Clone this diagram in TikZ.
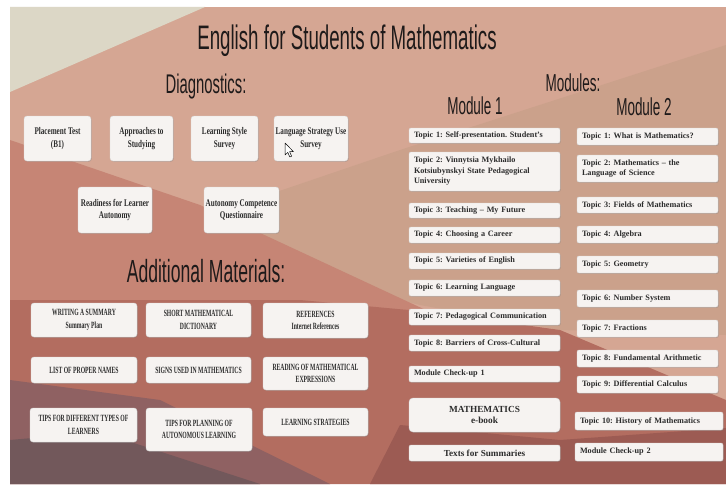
\documentclass[tikz,border=0pt]{standalone}
\usepackage{fontspec}
\setmainfont{Liberation Serif}
\newfontfamily\headfont[FakeStretch=0.55]{Liberation Sans}
\newfontfamily\diagfont[FakeStretch=0.70]{Liberation Serif}
\newfontfamily\capsfont[FakeStretch=0.60]{Liberation Serif}
\usetikzlibrary{shadows}
\definecolor{slide}{HTML}{D5A693}
\definecolor{beige}{HTML}{DCD7C6}
\definecolor{tanmid}{HTML}{CBA18B}
\definecolor{redleft}{HTML}{C68575}
\definecolor{redband}{HTML}{B36D60}
\definecolor{darkleft}{HTML}{8F6162}
\definecolor{darkest}{HTML}{72585B}
\definecolor{darkright}{HTML}{9C5B53}
\definecolor{boxfill}{HTML}{F6F3F1}
\definecolor{boxtext}{HTML}{2C2C2C}
\definecolor{headtext}{HTML}{1E1A1A}
\frenchspacing
\tikzset{
  box/.style={draw=black!15, fill=boxfill, rounded corners=3pt,
    drop shadow={opacity=0.35, shadow xshift=0.8pt, shadow yshift=-0.8pt},
    inner sep=0pt, text=boxtext},
  diagbox/.style={box, align=center, font=\diagfont\fontsize{10.2}{12.5}\selectfont\bfseries},
  matbox/.style={box, align=center, font=\capsfont\fontsize{9.5}{12.5}\selectfont\bfseries},
  topic/.style={box, rounded corners=2pt, align=left, inner xsep=5pt, inner ysep=0pt,
    font=\fontsize{8.2}{10.5}\selectfont\bfseries},
  mtopic/.style={topic, text width=141pt, minimum height=#1},
  ntopic/.style={topic, text width=131pt, minimum height=#1},
  head/.style={anchor=base, text=headtext, inner sep=0pt}
}
\begin{document}
\begin{tikzpicture}[x=1pt,y=-1pt]
\useasboundingbox (0,0) rectangle (726,487);
% background
\fill[white] (0,0) rectangle (726,487);
\fill[slide] (10,7) rectangle (726,484);
\fill[tanmid] (150,235) -- (400,150) -- (726,45) -- (726,335) -- (560,330) -- (420,305) -- cycle;
\fill[beige] (10,7) -- (205,7) -- (10,92) -- cycle;
\fill[redleft] (10,140) -- (200,205) -- (430,312) -- (300,330) -- (10,330) -- cycle;
\fill[redband] (10,300) -- (300,300) -- (430,312) -- (560,330) -- (726,400) -- (726,484) -- (10,484) -- cycle;
\fill[darkleft] (10,380) -- (160,400) -- (330,484) -- (10,484) -- cycle;
\fill[darkest] (10,440) -- (100,432) -- (260,484) -- (10,484) -- cycle;
\fill[darkright] (400,425) -- (560,440) -- (726,428) -- (726,484) -- (370,484) -- cycle;

% headings
\node[head, font=\headfont\fontsize{34}{36}\selectfont] (title) at (347,50) {English for Students of Mathematics};
\node[head, font=\headfont\fontsize{27}{30}\selectfont] (diag) at (206,93) {Diagnostics:};
\node[head, font=\headfont\fontsize{24.5}{27}\selectfont] (modules) at (573,92) {Modules:};
\node[head, font=\headfont\fontsize{24.5}{27}\selectfont] (mod1) at (475,114) {Module 1};
\node[head, font=\headfont\fontsize{24.5}{27}\selectfont] (mod2) at (644,115) {Module 2};
\node[head, font=\headfont\fontsize{32}{35}\selectfont] (addmat) at (206,282) {Additional Materials:};

% diagnostics boxes
\node[diagbox, minimum width=67pt, minimum height=45pt] (d1) at (57.5,138.5) {Placement Test\\(B1)};
\node[diagbox, minimum width=63pt, minimum height=45pt] (d2) at (141.5,138.5) {Approaches to\\Studying};
\node[diagbox, minimum width=67pt, minimum height=45pt] (d3) at (224.5,138.5) {Learning Style\\Survey};
\node[diagbox, minimum width=74pt, minimum height=45pt] (d4) at (311,138.5) {Language Strategy Use\\Survey};
\node[diagbox, minimum width=74pt, minimum height=46pt] (d5) at (115,210) {Readiness for Learner\\Autonomy};
\node[diagbox, minimum width=75pt, minimum height=46pt] (d6) at (241.5,210) {Autonomy Competence\\Questionnaire};
% mouse cursor
\filldraw[fill=white, draw=black, line width=0.5pt, line join=round]
  (285,143) -- (285,155) -- (287.8,152.4) -- (289.8,157) -- (291.6,156.2) -- (289.6,151.6) -- (293.4,151.6) -- cycle;

% additional materials
\node[matbox, minimum width=106pt, minimum height=34pt] (a1) at (84,320) {WRITING A SUMMARY\\Summary Plan};
\node[matbox, minimum width=105pt, minimum height=34pt] (a2) at (198.5,320) {SHORT MATHEMATICAL\\DICTIONARY};
\node[matbox, minimum width=105pt, minimum height=35pt] (a3) at (315.5,320.5) {REFERENCES\\Internet References};
\node[matbox, minimum width=106pt, minimum height=26pt] (a4) at (84,370) {LIST OF PROPER NAMES};
\node[matbox, minimum width=105pt, minimum height=26pt] (a5) at (198.5,370) {SIGNS USED IN MATHEMATICS};
\node[matbox, minimum width=105pt, minimum height=33pt] (a6) at (315.5,373.5) {READING OF MATHEMATICAL\\EXPRESSIONS};
\node[matbox, minimum width=107pt, minimum height=34pt] (a7) at (83.5,425) {TIPS FOR DIFFERENT TYPES OF\\LEARNERS};
\node[matbox, minimum width=106pt, minimum height=43pt] (a8) at (199,429.5) {TIPS FOR PLANNING OF\\AUTONOMOUS LEARNING};
\node[matbox, minimum width=105pt, minimum height=28pt] (a9) at (315.5,422) {LEARNING STRATEGIES};

% module 1
\node[mtopic=15pt] (m1) at (484.5,135.5) {Topic 1: Self-presentation. Student's};
\node[mtopic=39pt] (m2) at (484.5,171.5) {Topic 2: Vinnytsia Mykhailo\\Kotsiubynskyi State Pedagogical\\University};
\node[mtopic=15pt] (m3) at (484.5,210.5) {Topic 3: Teaching -- My Future};
\node[mtopic=16pt] (m4) at (484.5,235) {Topic 4: Choosing a Career};
\node[mtopic=16pt] (m5) at (484.5,261) {Topic 5: Varieties of English};
\node[mtopic=16pt] (m6) at (484.5,288) {Topic 6: Learning Language};
\node[mtopic=16pt] (m7) at (484.5,317) {Topic 7: Pedagogical Communication};
\node[mtopic=16pt] (m8) at (484.5,343) {Topic 8: Barriers of Cross-Cultural};
\node[mtopic=16pt] (m9) at (484.5,374) {Module Check-up 1};
\node[box, rounded corners=4pt, minimum width=151pt, minimum height=34pt, align=center,
      font=\fontsize{9.3}{11}\selectfont\bfseries] (m10) at (484.5,415) {MATHEMATICS\\e-book};
\node[box, rounded corners=2pt, minimum width=151pt, minimum height=16pt,
      font=\fontsize{9.2}{11}\selectfont\bfseries] (m11) at (484.5,453) {Texts for Summaries};

% module 2
\node[ntopic=17pt] (n1) at (647.5,136.5) {Topic 1: What is Mathematics?};
\node[ntopic=27pt] (n2) at (647.5,168.5) {Topic 2: Mathematics -- the\\Language of Science};
\node[ntopic=16pt] (n3) at (647.5,205) {Topic 3: Fields of Mathematics};
\node[ntopic=17pt] (n4) at (647.5,234.5) {Topic 4: Algebra};
\node[ntopic=17pt] (n5) at (647.5,264.5) {Topic 5: Geometry};
\node[ntopic=17pt] (n6) at (647.5,298.5) {Topic 6: Number System};
\node[ntopic=17pt] (n7) at (647.5,328.5) {Topic 7: Fractions};
\node[ntopic=17pt] (n8) at (647.5,358.5) {Topic 8: Fundamental Arithmetic};
\node[ntopic=17pt] (n9) at (647.5,384.5) {Topic 9: Differential Calculus};
\node[topic, text width=138pt, minimum height=18pt] (n10) at (649,421) {Topic 10: History of Mathematics};
\node[topic, text width=138pt, minimum height=18pt] (n11) at (649,452) {Module Check-up 2};
\end{tikzpicture}
\end{document}
